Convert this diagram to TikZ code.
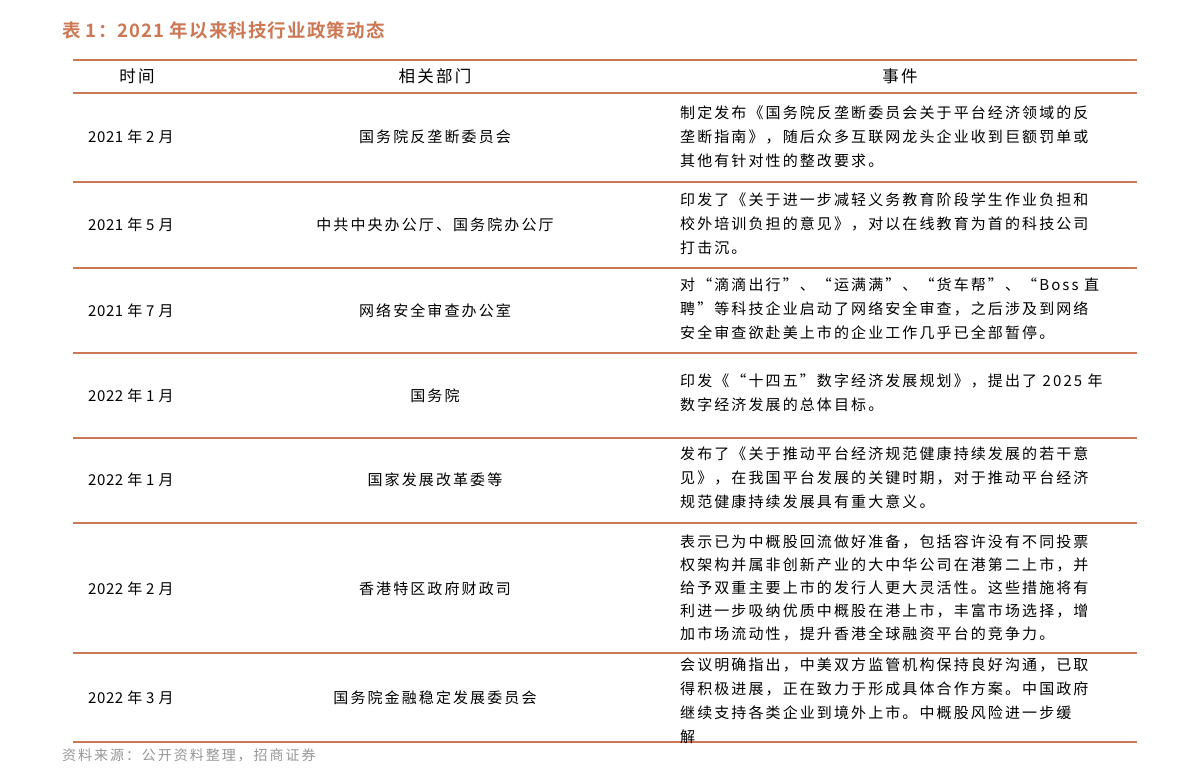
\documentclass[tikz,border=0pt]{standalone}
\usepackage{fontspec}
\setmainfont{Noto Sans CJK SC}[LetterSpace=14]
\newfontfamily\titlefont{Noto Sans CJK SC Bold}[LetterSpace=6]
\newfontfamily\plainfont{Noto Sans CJK SC}[LetterSpace=4]
\definecolor{rule}{RGB}{205,120,85}
\definecolor{note}{RGB}{150,150,150}
\tikzset{
  x=1pt, y=-1pt,
  txt/.style={inner sep=0pt,font=\fontsize{15}{24}\selectfont},
  when/.style={inner sep=0pt,anchor=west,font=\plainfont\fontsize{15}{24}\selectfont},
  dept/.style={txt,anchor=center},
  event/.style={txt,anchor=north west,align=left},
  head/.style={inner sep=0pt,font=\fontsize{16.5}{20}\selectfont}
}

\begin{document}
\begin{tikzpicture}
    \useasboundingbox (0,0) rectangle (1191,784);
    \node [anchor=west,inner sep=0pt,text=rule,font=\titlefont\fontsize{18.5}{20}\selectfont] (title) at (62,30) {表 1：2021 年以来科技行业政策动态};

    % rules of the table
    \coordinate (tl) at (73,60);
    \coordinate (tr) at (1137,60);
    \draw [rule, line width=1.6pt] (tl) -- (tr);
    \foreach \y in {93,182,268,353,438,523,653,742}
      \draw [rule, line width=1.2pt] (73,\y) -- (1137,\y);

    \node [head] (hTime) at (137,76) {时间};
    \node [head] (hDept) at (435,76) {相关部门};
    \node [head] (hEvent) at (900,76) {事件};

    \node [when] (t1) at (88,137) {2021 年 2 月};
    \node [when] (t2) at (88,225) {2021 年 5 月};
    \node [when] (t3) at (88,311) {2021 年 7 月};
    \node [when] (t4) at (88,396) {2022 年 1 月};
    \node [when] (t5) at (88,480) {2022 年 1 月};
    \node [when] (t6) at (88,589) {2022 年 2 月};
    \node [when] (t7) at (88,698) {2022 年 3 月};

    \node [dept] (d1) at (435,137) {国务院反垄断委员会};
    \node [dept] (d2) at (435,225) {中共中央办公厅、国务院办公厅};
    \node [dept] (d3) at (435,311) {网络安全审查办公室};
    \node [dept] (d4) at (435,396) {国务院};
    \node [dept] (d5) at (435,480) {国家发展改革委等};
    \node [dept] (d6) at (435,589) {香港特区政府财政司};
    \node [dept] (d7) at (435,698) {国务院金融稳定发展委员会};

    \node [event] (e1) at (680,106) {制定发布《国务院反垄断委员会关于平台经济领域的反\\垄断指南》，随后众多互联网龙头企业收到巨额罚单或\\其他有针对性的整改要求。};
    \node [event] (e2) at (680,193) {印发了《关于进一步减轻义务教育阶段学生作业负担和\\校外培训负担的意见》，对以在线教育为首的科技公司\\打击沉。};
    \node [event] (e3) at (680,278) {对“滴滴出行”、“运满满”、“货车帮”、“Boss 直\\聘”等科技企业启动了网络安全审查，之后涉及到网络\\安全审查欲赴美上市的企业工作几乎已全部暂停。};
    \node [event] (e4) at (680,374) {印发《“十四五”数字经济发展规划》，提出了 2025 年\\数字经济发展的总体目标。};
    \node [event] (e5) at (680,447) {发布了《关于推动平台经济规范健康持续发展的若干意\\见》，在我国平台发展的关键时期，对于推动平台经济\\规范健康持续发展具有重大意义。};
    \node [event,font=\fontsize{15}{23}\selectfont] (e6) at (680,535) {表示已为中概股回流做好准备，包括容许没有不同投票\\权架构并属非创新产业的大中华公司在港第二上市，并\\给予双重主要上市的发行人更大灵活性。这些措施将有\\利进一步吸纳优质中概股在港上市，丰富市场选择，增\\加市场流动性，提升香港全球融资平台的竞争力。};
    \node [event] (e7) at (680,658) {会议明确指出，中美双方监管机构保持良好沟通，已取\\得积极进展，正在致力于形成具体合作方案。中国政府\\继续支持各类企业到境外上市。中概股风险进一步缓\\解};

    \node [anchor=west,inner sep=0pt,text=note,font=\fontsize{14}{16}\selectfont] (source) at (62,755) {资料来源：公开资料整理，招商证券};
\end{tikzpicture}
\end{document}
